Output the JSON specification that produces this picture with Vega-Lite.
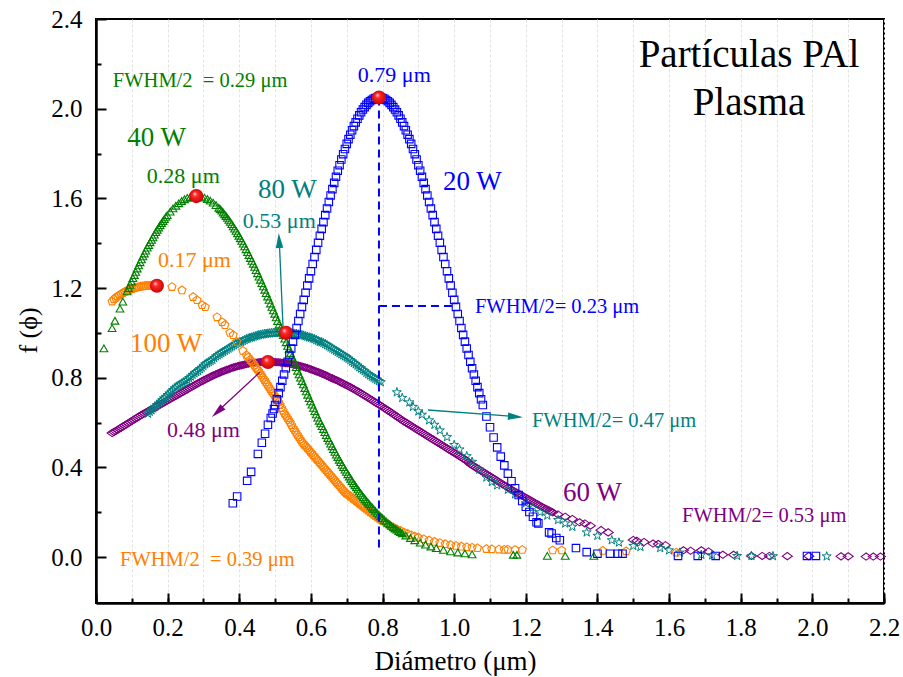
{
"$schema":"https://vega.github.io/schema/vega-lite/v6.json",
"width":788,"height":584,
"autosize":{"type":"none"},
"padding":{"left":96,"top":19,"right":19,"bottom":74},
"background":"white",
"config":{"view":{"stroke":"black","strokeWidth":2},"font":"Liberation Serif"},
"resolve":{"axis":{"x":"independent","y":"independent"}},
"datasets":{
"s60":[{"x":0.045,"y":0.553},{"x":0.05,"y":0.558},{"x":0.055,"y":0.562},{"x":0.06,"y":0.567},{"x":0.065,"y":0.572},{"x":0.07,"y":0.577},{"x":0.075,"y":0.582},{"x":0.08,"y":0.587},{"x":0.085,"y":0.592},{"x":0.09,"y":0.597},{"x":0.095,"y":0.602},{"x":0.1,"y":0.607},{"x":0.105,"y":0.612},{"x":0.11,"y":0.617},{"x":0.115,"y":0.622},{"x":0.12,"y":0.627},{"x":0.125,"y":0.632},{"x":0.13,"y":0.637},{"x":0.135,"y":0.641},{"x":0.14,"y":0.646},{"x":0.145,"y":0.65},{"x":0.15,"y":0.655},{"x":0.155,"y":0.659},{"x":0.16,"y":0.663},{"x":0.165,"y":0.667},{"x":0.17,"y":0.672},{"x":0.175,"y":0.676},{"x":0.18,"y":0.681},{"x":0.185,"y":0.685},{"x":0.19,"y":0.69},{"x":0.195,"y":0.694},{"x":0.2,"y":0.699},{"x":0.205,"y":0.703},{"x":0.21,"y":0.708},{"x":0.215,"y":0.712},{"x":0.22,"y":0.717},{"x":0.225,"y":0.721},{"x":0.23,"y":0.726},{"x":0.235,"y":0.73},{"x":0.24,"y":0.735},{"x":0.245,"y":0.739},{"x":0.25,"y":0.744},{"x":0.255,"y":0.748},{"x":0.26,"y":0.753},{"x":0.265,"y":0.757},{"x":0.27,"y":0.762},{"x":0.275,"y":0.766},{"x":0.28,"y":0.771},{"x":0.285,"y":0.775},{"x":0.29,"y":0.78},{"x":0.295,"y":0.784},{"x":0.3,"y":0.788},{"x":0.305,"y":0.792},{"x":0.31,"y":0.796},{"x":0.315,"y":0.8},{"x":0.32,"y":0.804},{"x":0.325,"y":0.808},{"x":0.33,"y":0.812},{"x":0.335,"y":0.815},{"x":0.34,"y":0.819},{"x":0.345,"y":0.822},{"x":0.35,"y":0.826},{"x":0.355,"y":0.829},{"x":0.36,"y":0.832},{"x":0.365,"y":0.835},{"x":0.37,"y":0.838},{"x":0.375,"y":0.841},{"x":0.38,"y":0.844},{"x":0.385,"y":0.846},{"x":0.39,"y":0.849},{"x":0.395,"y":0.851},{"x":0.4,"y":0.853},{"x":0.405,"y":0.855},{"x":0.41,"y":0.857},{"x":0.415,"y":0.859},{"x":0.42,"y":0.861},{"x":0.425,"y":0.862},{"x":0.43,"y":0.864},{"x":0.435,"y":0.865},{"x":0.44,"y":0.866},{"x":0.445,"y":0.867},{"x":0.45,"y":0.868},{"x":0.455,"y":0.869},{"x":0.46,"y":0.87},{"x":0.465,"y":0.87},{"x":0.47,"y":0.87},{"x":0.475,"y":0.87},{"x":0.48,"y":0.87},{"x":0.485,"y":0.87},{"x":0.49,"y":0.87},{"x":0.495,"y":0.87},{"x":0.5,"y":0.87},{"x":0.505,"y":0.869},{"x":0.51,"y":0.869},{"x":0.515,"y":0.868},{"x":0.52,"y":0.867},{"x":0.525,"y":0.866},{"x":0.53,"y":0.865},{"x":0.535,"y":0.864},{"x":0.54,"y":0.863},{"x":0.545,"y":0.861},{"x":0.55,"y":0.86},{"x":0.555,"y":0.858},{"x":0.56,"y":0.856},{"x":0.565,"y":0.854},{"x":0.57,"y":0.852},{"x":0.575,"y":0.85},{"x":0.58,"y":0.848},{"x":0.585,"y":0.845},{"x":0.59,"y":0.843},{"x":0.595,"y":0.84},{"x":0.6,"y":0.837},{"x":0.605,"y":0.834},{"x":0.61,"y":0.831},{"x":0.615,"y":0.828},{"x":0.62,"y":0.825},{"x":0.625,"y":0.822},{"x":0.63,"y":0.819},{"x":0.635,"y":0.815},{"x":0.64,"y":0.812},{"x":0.645,"y":0.808},{"x":0.65,"y":0.804},{"x":0.655,"y":0.8},{"x":0.66,"y":0.797},{"x":0.665,"y":0.793},{"x":0.67,"y":0.79},{"x":0.675,"y":0.786},{"x":0.68,"y":0.782},{"x":0.685,"y":0.778},{"x":0.69,"y":0.774},{"x":0.695,"y":0.77},{"x":0.7,"y":0.766},{"x":0.705,"y":0.762},{"x":0.71,"y":0.758},{"x":0.715,"y":0.753},{"x":0.72,"y":0.749},{"x":0.725,"y":0.744},{"x":0.73,"y":0.74},{"x":0.735,"y":0.735},{"x":0.74,"y":0.73},{"x":0.745,"y":0.725},{"x":0.75,"y":0.72},{"x":0.755,"y":0.715},{"x":0.76,"y":0.71},{"x":0.765,"y":0.705},{"x":0.77,"y":0.7},{"x":0.775,"y":0.695},{"x":0.78,"y":0.69},{"x":0.785,"y":0.685},{"x":0.79,"y":0.68},{"x":0.795,"y":0.675},{"x":0.8,"y":0.67},{"x":0.805,"y":0.664},{"x":0.81,"y":0.659},{"x":0.815,"y":0.654},{"x":0.82,"y":0.649},{"x":0.825,"y":0.643},{"x":0.83,"y":0.638},{"x":0.835,"y":0.632},{"x":0.84,"y":0.627},{"x":0.845,"y":0.621},{"x":0.85,"y":0.616},{"x":0.855,"y":0.61},{"x":0.86,"y":0.605},{"x":0.865,"y":0.6},{"x":0.87,"y":0.595},{"x":0.875,"y":0.59},{"x":0.88,"y":0.585},{"x":0.885,"y":0.58},{"x":0.89,"y":0.575},{"x":0.895,"y":0.57},{"x":0.9,"y":0.565},{"x":0.905,"y":0.56},{"x":0.91,"y":0.555},{"x":0.915,"y":0.55},{"x":0.92,"y":0.545},{"x":0.925,"y":0.54},{"x":0.93,"y":0.535},{"x":0.935,"y":0.53},{"x":0.94,"y":0.525},{"x":0.945,"y":0.52},{"x":0.95,"y":0.515},{"x":0.955,"y":0.51},{"x":0.96,"y":0.505},{"x":0.965,"y":0.5},{"x":0.97,"y":0.495},{"x":0.975,"y":0.49},{"x":0.98,"y":0.485},{"x":0.985,"y":0.48},{"x":0.99,"y":0.475},{"x":0.995,"y":0.47},{"x":1.0,"y":0.465},{"x":1.005,"y":0.46},{"x":1.01,"y":0.455},{"x":1.015,"y":0.45},{"x":1.02,"y":0.445},{"x":1.025,"y":0.44},{"x":1.03,"y":0.435},{"x":1.035,"y":0.43},{"x":1.04,"y":0.423},{"x":1.045,"y":0.415},{"x":1.05,"y":0.41},{"x":1.055,"y":0.405},{"x":1.06,"y":0.4},{"x":1.065,"y":0.395},{"x":1.07,"y":0.39},{"x":1.075,"y":0.385},{"x":1.08,"y":0.38},{"x":1.085,"y":0.375},{"x":1.09,"y":0.37},{"x":1.095,"y":0.365},{"x":1.1,"y":0.36},{"x":1.105,"y":0.355},{"x":1.11,"y":0.35},{"x":1.115,"y":0.345},{"x":1.12,"y":0.34},{"x":1.125,"y":0.335},{"x":1.13,"y":0.33},{"x":1.135,"y":0.325},{"x":1.14,"y":0.32},{"x":1.145,"y":0.315},{"x":1.15,"y":0.31},{"x":1.155,"y":0.305},{"x":1.16,"y":0.3},{"x":1.165,"y":0.296},{"x":1.17,"y":0.291},{"x":1.175,"y":0.287},{"x":1.18,"y":0.282},{"x":1.185,"y":0.278},{"x":1.19,"y":0.273},{"x":1.195,"y":0.269},{"x":1.2,"y":0.264},{"x":1.205,"y":0.26},{"x":1.21,"y":0.255},{"x":1.215,"y":0.251},{"x":1.22,"y":0.246},{"x":1.225,"y":0.242},{"x":1.23,"y":0.237},{"x":1.235,"y":0.233},{"x":1.24,"y":0.228},{"x":1.245,"y":0.224},{"x":1.25,"y":0.219},{"x":1.255,"y":0.215},{"x":1.26,"y":0.211},{"x":1.265,"y":0.207},{"x":1.27,"y":0.203},{"x":1.275,"y":0.2},{"x":1.29,"y":0.19},{"x":1.31,"y":0.18},{"x":1.33,"y":0.17},{"x":1.35,"y":0.155},{"x":1.365,"y":0.15},{"x":1.38,"y":0.14},{"x":1.41,"y":0.12},{"x":1.43,"y":0.11},{"x":1.5,"y":0.076},{"x":1.51,"y":0.072},{"x":1.53,"y":0.067},{"x":1.555,"y":0.06},{"x":1.57,"y":0.058},{"x":1.59,"y":0.053},{"x":1.64,"y":0.03},{"x":1.66,"y":0.028},{"x":1.69,"y":0.03},{"x":1.71,"y":0.025},{"x":1.75,"y":0.01},{"x":1.78,"y":0.01},{"x":1.83,"y":0.005},{"x":1.86,"y":0.005},{"x":1.88,"y":0.005},{"x":1.93,"y":0.004},{"x":1.99,"y":0.004},{"x":2.08,"y":0.003},{"x":2.1,"y":0.003},{"x":2.15,"y":0.002},{"x":2.17,"y":0.002},{"x":2.19,"y":0.002}],
"s80":[{"x":0.145,"y":0.64},{"x":0.15,"y":0.648},{"x":0.155,"y":0.655},{"x":0.16,"y":0.663},{"x":0.165,"y":0.67},{"x":0.17,"y":0.678},{"x":0.175,"y":0.685},{"x":0.18,"y":0.693},{"x":0.185,"y":0.7},{"x":0.19,"y":0.708},{"x":0.195,"y":0.715},{"x":0.2,"y":0.723},{"x":0.205,"y":0.73},{"x":0.21,"y":0.738},{"x":0.215,"y":0.745},{"x":0.22,"y":0.753},{"x":0.225,"y":0.76},{"x":0.23,"y":0.765},{"x":0.235,"y":0.77},{"x":0.24,"y":0.775},{"x":0.245,"y":0.78},{"x":0.25,"y":0.785},{"x":0.255,"y":0.79},{"x":0.26,"y":0.798},{"x":0.265,"y":0.805},{"x":0.27,"y":0.813},{"x":0.275,"y":0.82},{"x":0.28,"y":0.825},{"x":0.285,"y":0.83},{"x":0.29,"y":0.838},{"x":0.295,"y":0.845},{"x":0.3,"y":0.853},{"x":0.305,"y":0.86},{"x":0.31,"y":0.865},{"x":0.315,"y":0.87},{"x":0.32,"y":0.875},{"x":0.325,"y":0.88},{"x":0.33,"y":0.888},{"x":0.335,"y":0.895},{"x":0.34,"y":0.9},{"x":0.345,"y":0.905},{"x":0.35,"y":0.91},{"x":0.355,"y":0.915},{"x":0.36,"y":0.92},{"x":0.365,"y":0.925},{"x":0.37,"y":0.93},{"x":0.375,"y":0.935},{"x":0.38,"y":0.94},{"x":0.385,"y":0.945},{"x":0.39,"y":0.95},{"x":0.395,"y":0.955},{"x":0.4,"y":0.958},{"x":0.405,"y":0.96},{"x":0.41,"y":0.964},{"x":0.415,"y":0.968},{"x":0.42,"y":0.972},{"x":0.425,"y":0.975},{"x":0.43,"y":0.978},{"x":0.435,"y":0.98},{"x":0.44,"y":0.983},{"x":0.445,"y":0.985},{"x":0.45,"y":0.988},{"x":0.455,"y":0.99},{"x":0.46,"y":0.992},{"x":0.465,"y":0.993},{"x":0.47,"y":0.995},{"x":0.475,"y":0.996},{"x":0.48,"y":0.997},{"x":0.485,"y":0.998},{"x":0.49,"y":0.999},{"x":0.495,"y":1.0},{"x":0.5,"y":1.0},{"x":0.505,"y":1.0},{"x":0.51,"y":1.0},{"x":0.515,"y":1.0},{"x":0.52,"y":1.0},{"x":0.525,"y":1.0},{"x":0.53,"y":1.0},{"x":0.535,"y":1.0},{"x":0.54,"y":0.999},{"x":0.545,"y":0.998},{"x":0.55,"y":0.997},{"x":0.555,"y":0.996},{"x":0.56,"y":0.995},{"x":0.565,"y":0.993},{"x":0.57,"y":0.992},{"x":0.575,"y":0.99},{"x":0.58,"y":0.988},{"x":0.585,"y":0.985},{"x":0.59,"y":0.983},{"x":0.595,"y":0.98},{"x":0.6,"y":0.978},{"x":0.605,"y":0.975},{"x":0.61,"y":0.972},{"x":0.615,"y":0.968},{"x":0.62,"y":0.964},{"x":0.625,"y":0.96},{"x":0.63,"y":0.958},{"x":0.635,"y":0.955},{"x":0.64,"y":0.95},{"x":0.645,"y":0.945},{"x":0.65,"y":0.94},{"x":0.655,"y":0.935},{"x":0.66,"y":0.93},{"x":0.665,"y":0.925},{"x":0.67,"y":0.92},{"x":0.675,"y":0.915},{"x":0.68,"y":0.91},{"x":0.685,"y":0.905},{"x":0.69,"y":0.9},{"x":0.695,"y":0.895},{"x":0.7,"y":0.89},{"x":0.705,"y":0.885},{"x":0.71,"y":0.879},{"x":0.715,"y":0.872},{"x":0.72,"y":0.866},{"x":0.725,"y":0.86},{"x":0.73,"y":0.854},{"x":0.735,"y":0.847},{"x":0.74,"y":0.841},{"x":0.745,"y":0.835},{"x":0.75,"y":0.829},{"x":0.755,"y":0.822},{"x":0.76,"y":0.816},{"x":0.765,"y":0.81},{"x":0.77,"y":0.805},{"x":0.775,"y":0.8},{"x":0.78,"y":0.795},{"x":0.785,"y":0.79},{"x":0.79,"y":0.785},{"x":0.795,"y":0.78},{"x":0.84,"y":0.735},{"x":0.855,"y":0.71},{"x":0.875,"y":0.69},{"x":0.885,"y":0.67},{"x":0.9,"y":0.65},{"x":0.91,"y":0.635},{"x":0.93,"y":0.61},{"x":0.945,"y":0.59},{"x":0.96,"y":0.565},{"x":0.98,"y":0.535},{"x":1.0,"y":0.5},{"x":1.015,"y":0.48},{"x":1.035,"y":0.45},{"x":1.05,"y":0.425},{"x":1.07,"y":0.39},{"x":1.09,"y":0.355},{"x":1.105,"y":0.335},{"x":1.12,"y":0.32},{"x":1.15,"y":0.3},{"x":1.17,"y":0.28},{"x":1.2,"y":0.24},{"x":1.22,"y":0.22},{"x":1.24,"y":0.2},{"x":1.26,"y":0.185},{"x":1.29,"y":0.165},{"x":1.31,"y":0.15},{"x":1.33,"y":0.135},{"x":1.37,"y":0.11},{"x":1.4,"y":0.095},{"x":1.44,"y":0.075},{"x":1.46,"y":0.065},{"x":1.5,"y":0.05},{"x":1.52,"y":0.045},{"x":1.575,"y":0.04},{"x":1.6,"y":0.03},{"x":1.63,"y":0.02},{"x":1.69,"y":0.01},{"x":1.72,"y":0.008},{"x":1.79,"y":0.005},{"x":1.83,"y":0.005},{"x":1.89,"y":0.004},{"x":2.04,"y":0.003}],
"s100":[{"x":0.045,"y":1.14},{"x":0.05,"y":1.15},{"x":0.055,"y":1.157},{"x":0.06,"y":1.163},{"x":0.065,"y":1.168},{"x":0.07,"y":1.173},{"x":0.075,"y":1.178},{"x":0.08,"y":1.183},{"x":0.085,"y":1.187},{"x":0.09,"y":1.19},{"x":0.095,"y":1.193},{"x":0.1,"y":1.196},{"x":0.105,"y":1.199},{"x":0.11,"y":1.201},{"x":0.115,"y":1.203},{"x":0.12,"y":1.205},{"x":0.125,"y":1.207},{"x":0.13,"y":1.208},{"x":0.135,"y":1.209},{"x":0.14,"y":1.21},{"x":0.145,"y":1.21},{"x":0.15,"y":1.211},{"x":0.155,"y":1.211},{"x":0.16,"y":1.211},{"x":0.165,"y":1.21},{"x":0.17,"y":1.21},{"x":0.212,"y":1.205},{"x":0.24,"y":1.19},{"x":0.271,"y":1.16},{"x":0.282,"y":1.146},{"x":0.296,"y":1.124},{"x":0.305,"y":1.115},{"x":0.338,"y":1.07},{"x":0.352,"y":1.048},{"x":0.36,"y":1.035},{"x":0.374,"y":1.0},{"x":0.383,"y":0.99},{"x":0.393,"y":0.96},{"x":0.41,"y":0.92},{"x":0.42,"y":0.9},{"x":0.425,"y":0.89},{"x":0.43,"y":0.88},{"x":0.434,"y":0.873},{"x":0.438,"y":0.865},{"x":0.442,"y":0.855},{"x":0.446,"y":0.845},{"x":0.45,"y":0.838},{"x":0.454,"y":0.83},{"x":0.458,"y":0.82},{"x":0.462,"y":0.81},{"x":0.466,"y":0.8},{"x":0.47,"y":0.79},{"x":0.474,"y":0.78},{"x":0.478,"y":0.77},{"x":0.482,"y":0.76},{"x":0.486,"y":0.75},{"x":0.49,"y":0.74},{"x":0.494,"y":0.73},{"x":0.498,"y":0.72},{"x":0.502,"y":0.71},{"x":0.506,"y":0.7},{"x":0.51,"y":0.69},{"x":0.514,"y":0.678},{"x":0.518,"y":0.665},{"x":0.522,"y":0.653},{"x":0.526,"y":0.64},{"x":0.53,"y":0.63},{"x":0.534,"y":0.62},{"x":0.538,"y":0.61},{"x":0.542,"y":0.6},{"x":0.546,"y":0.588},{"x":0.55,"y":0.575},{"x":0.554,"y":0.565},{"x":0.558,"y":0.555},{"x":0.562,"y":0.545},{"x":0.566,"y":0.535},{"x":0.57,"y":0.525},{"x":0.574,"y":0.515},{"x":0.578,"y":0.508},{"x":0.582,"y":0.5},{"x":0.586,"y":0.493},{"x":0.59,"y":0.485},{"x":0.594,"y":0.478},{"x":0.598,"y":0.47},{"x":0.602,"y":0.463},{"x":0.606,"y":0.455},{"x":0.61,"y":0.448},{"x":0.614,"y":0.44},{"x":0.618,"y":0.433},{"x":0.622,"y":0.425},{"x":0.626,"y":0.418},{"x":0.63,"y":0.41},{"x":0.634,"y":0.403},{"x":0.638,"y":0.395},{"x":0.642,"y":0.388},{"x":0.646,"y":0.38},{"x":0.65,"y":0.373},{"x":0.654,"y":0.365},{"x":0.658,"y":0.358},{"x":0.662,"y":0.35},{"x":0.666,"y":0.343},{"x":0.67,"y":0.335},{"x":0.674,"y":0.328},{"x":0.678,"y":0.32},{"x":0.682,"y":0.313},{"x":0.686,"y":0.305},{"x":0.69,"y":0.298},{"x":0.694,"y":0.29},{"x":0.698,"y":0.285},{"x":0.702,"y":0.28},{"x":0.706,"y":0.275},{"x":0.71,"y":0.27},{"x":0.714,"y":0.265},{"x":0.718,"y":0.26},{"x":0.722,"y":0.255},{"x":0.726,"y":0.25},{"x":0.73,"y":0.245},{"x":0.734,"y":0.24},{"x":0.738,"y":0.235},{"x":0.742,"y":0.23},{"x":0.746,"y":0.225},{"x":0.75,"y":0.22},{"x":0.755,"y":0.213},{"x":0.76,"y":0.207},{"x":0.765,"y":0.201},{"x":0.77,"y":0.195},{"x":0.775,"y":0.189},{"x":0.78,"y":0.183},{"x":0.785,"y":0.177},{"x":0.79,"y":0.172},{"x":0.795,"y":0.166},{"x":0.8,"y":0.161},{"x":0.81,"y":0.151},{"x":0.82,"y":0.141},{"x":0.83,"y":0.132},{"x":0.84,"y":0.124},{"x":0.85,"y":0.117},{"x":0.86,"y":0.11},{"x":0.87,"y":0.104},{"x":0.88,"y":0.098},{"x":0.89,"y":0.092},{"x":0.9,"y":0.087},{"x":0.915,"y":0.08},{"x":0.93,"y":0.074},{"x":0.945,"y":0.068},{"x":0.96,"y":0.063},{"x":0.975,"y":0.058},{"x":0.99,"y":0.054},{"x":1.005,"y":0.05},{"x":1.02,"y":0.047},{"x":1.035,"y":0.044},{"x":1.05,"y":0.042},{"x":1.065,"y":0.04},{"x":1.09,"y":0.036},{"x":1.105,"y":0.035},{"x":1.125,"y":0.034},{"x":1.14,"y":0.033},{"x":1.15,"y":0.033},{"x":1.17,"y":0.032},{"x":1.19,"y":0.032},{"x":1.275,"y":0.03},{"x":1.3,"y":0.03},{"x":1.415,"y":0.028},{"x":1.48,"y":0.026},{"x":1.62,"y":0.02}],
"s40":[{"x":0.022,"y":0.931},{"x":0.045,"y":1.021},{"x":0.053,"y":1.054},{"x":0.067,"y":1.108},{"x":0.075,"y":1.139},{"x":0.087,"y":1.185},{"x":0.091,"y":1.2},{"x":0.095,"y":1.214},{"x":0.099,"y":1.229},{"x":0.103,"y":1.244},{"x":0.107,"y":1.258},{"x":0.111,"y":1.272},{"x":0.115,"y":1.287},{"x":0.119,"y":1.301},{"x":0.123,"y":1.315},{"x":0.127,"y":1.328},{"x":0.131,"y":1.341},{"x":0.135,"y":1.354},{"x":0.139,"y":1.367},{"x":0.143,"y":1.38},{"x":0.147,"y":1.392},{"x":0.151,"y":1.404},{"x":0.155,"y":1.415},{"x":0.159,"y":1.426},{"x":0.163,"y":1.438},{"x":0.167,"y":1.449},{"x":0.171,"y":1.46},{"x":0.175,"y":1.47},{"x":0.179,"y":1.48},{"x":0.183,"y":1.49},{"x":0.187,"y":1.499},{"x":0.191,"y":1.508},{"x":0.195,"y":1.517},{"x":0.199,"y":1.525},{"x":0.207,"y":1.541},{"x":0.215,"y":1.555},{"x":0.223,"y":1.567},{"x":0.231,"y":1.578},{"x":0.239,"y":1.588},{"x":0.247,"y":1.596},{"x":0.255,"y":1.602},{"x":0.263,"y":1.606},{"x":0.271,"y":1.609},{"x":0.279,"y":1.61},{"x":0.287,"y":1.609},{"x":0.295,"y":1.607},{"x":0.303,"y":1.603},{"x":0.311,"y":1.597},{"x":0.319,"y":1.59},{"x":0.327,"y":1.581},{"x":0.335,"y":1.57},{"x":0.343,"y":1.558},{"x":0.347,"y":1.552},{"x":0.351,"y":1.545},{"x":0.355,"y":1.537},{"x":0.359,"y":1.529},{"x":0.363,"y":1.521},{"x":0.367,"y":1.513},{"x":0.371,"y":1.504},{"x":0.375,"y":1.495},{"x":0.379,"y":1.485},{"x":0.383,"y":1.475},{"x":0.387,"y":1.465},{"x":0.391,"y":1.455},{"x":0.395,"y":1.444},{"x":0.399,"y":1.433},{"x":0.403,"y":1.422},{"x":0.407,"y":1.41},{"x":0.411,"y":1.398},{"x":0.415,"y":1.386},{"x":0.419,"y":1.373},{"x":0.423,"y":1.36},{"x":0.427,"y":1.347},{"x":0.431,"y":1.334},{"x":0.435,"y":1.321},{"x":0.439,"y":1.308},{"x":0.443,"y":1.294},{"x":0.447,"y":1.28},{"x":0.451,"y":1.266},{"x":0.455,"y":1.251},{"x":0.459,"y":1.237},{"x":0.463,"y":1.222},{"x":0.467,"y":1.207},{"x":0.471,"y":1.192},{"x":0.475,"y":1.177},{"x":0.479,"y":1.162},{"x":0.483,"y":1.147},{"x":0.487,"y":1.131},{"x":0.491,"y":1.116},{"x":0.495,"y":1.1},{"x":0.499,"y":1.085},{"x":0.503,"y":1.069},{"x":0.507,"y":1.053},{"x":0.511,"y":1.037},{"x":0.515,"y":1.021},{"x":0.519,"y":1.005},{"x":0.523,"y":0.99},{"x":0.527,"y":0.974},{"x":0.531,"y":0.958},{"x":0.535,"y":0.942},{"x":0.539,"y":0.926},{"x":0.543,"y":0.91},{"x":0.547,"y":0.894},{"x":0.551,"y":0.878},{"x":0.555,"y":0.863},{"x":0.559,"y":0.847},{"x":0.563,"y":0.831},{"x":0.567,"y":0.815},{"x":0.571,"y":0.8},{"x":0.575,"y":0.785},{"x":0.579,"y":0.77},{"x":0.583,"y":0.754},{"x":0.587,"y":0.739},{"x":0.591,"y":0.724},{"x":0.595,"y":0.709},{"x":0.599,"y":0.694},{"x":0.603,"y":0.68},{"x":0.607,"y":0.665},{"x":0.611,"y":0.651},{"x":0.615,"y":0.636},{"x":0.619,"y":0.622},{"x":0.623,"y":0.608},{"x":0.627,"y":0.596},{"x":0.631,"y":0.584},{"x":0.635,"y":0.571},{"x":0.639,"y":0.557},{"x":0.643,"y":0.544},{"x":0.647,"y":0.531},{"x":0.651,"y":0.519},{"x":0.655,"y":0.506},{"x":0.659,"y":0.494},{"x":0.663,"y":0.481},{"x":0.667,"y":0.469},{"x":0.671,"y":0.457},{"x":0.675,"y":0.446},{"x":0.679,"y":0.434},{"x":0.683,"y":0.423},{"x":0.687,"y":0.411},{"x":0.691,"y":0.401},{"x":0.695,"y":0.39},{"x":0.699,"y":0.38},{"x":0.703,"y":0.369},{"x":0.707,"y":0.359},{"x":0.711,"y":0.349},{"x":0.715,"y":0.339},{"x":0.719,"y":0.329},{"x":0.723,"y":0.32},{"x":0.727,"y":0.311},{"x":0.731,"y":0.302},{"x":0.735,"y":0.293},{"x":0.739,"y":0.284},{"x":0.743,"y":0.275},{"x":0.747,"y":0.267},{"x":0.751,"y":0.259},{"x":0.755,"y":0.251},{"x":0.759,"y":0.243},{"x":0.763,"y":0.236},{"x":0.767,"y":0.228},{"x":0.771,"y":0.221},{"x":0.775,"y":0.214},{"x":0.78,"y":0.206},{"x":0.785,"y":0.197},{"x":0.79,"y":0.189},{"x":0.795,"y":0.181},{"x":0.8,"y":0.174},{"x":0.805,"y":0.166},{"x":0.81,"y":0.159},{"x":0.815,"y":0.152},{"x":0.82,"y":0.146},{"x":0.825,"y":0.139},{"x":0.83,"y":0.133},{"x":0.835,"y":0.127},{"x":0.84,"y":0.122},{"x":0.845,"y":0.116},{"x":0.85,"y":0.111},{"x":0.855,"y":0.106},{"x":0.865,"y":0.096},{"x":0.878,"y":0.085},{"x":0.89,"y":0.075},{"x":0.905,"y":0.064},{"x":0.92,"y":0.055},{"x":0.935,"y":0.047},{"x":0.95,"y":0.04},{"x":0.97,"y":0.032},{"x":0.99,"y":0.025},{"x":1.01,"y":0.02},{"x":1.03,"y":0.016},{"x":1.05,"y":0.012},{"x":1.165,"y":0.01},{"x":1.175,"y":0.01},{"x":1.26,"y":0.005},{"x":1.31,"y":0.005},{"x":1.39,"y":0.005}],
"s20":[{"x":0.382,"y":0.24},{"x":0.394,"y":0.27},{"x":0.422,"y":0.34},{"x":0.433,"y":0.38},{"x":0.452,"y":0.46},{"x":0.463,"y":0.51},{"x":0.472,"y":0.55},{"x":0.48,"y":0.59},{"x":0.488,"y":0.62},{"x":0.493,"y":0.64},{"x":0.497,"y":0.66},{"x":0.5,"y":0.678},{"x":0.505,"y":0.704},{"x":0.51,"y":0.731},{"x":0.515,"y":0.758},{"x":0.52,"y":0.786},{"x":0.525,"y":0.814},{"x":0.53,"y":0.842},{"x":0.535,"y":0.871},{"x":0.54,"y":0.901},{"x":0.545,"y":0.93},{"x":0.55,"y":0.961},{"x":0.555,"y":0.991},{"x":0.56,"y":1.022},{"x":0.565,"y":1.053},{"x":0.57,"y":1.084},{"x":0.575,"y":1.116},{"x":0.58,"y":1.147},{"x":0.585,"y":1.179},{"x":0.59,"y":1.211},{"x":0.595,"y":1.243},{"x":0.6,"y":1.275},{"x":0.605,"y":1.307},{"x":0.61,"y":1.338},{"x":0.615,"y":1.37},{"x":0.62,"y":1.402},{"x":0.625,"y":1.433},{"x":0.63,"y":1.464},{"x":0.635,"y":1.494},{"x":0.64,"y":1.525},{"x":0.645,"y":1.555},{"x":0.65,"y":1.584},{"x":0.655,"y":1.613},{"x":0.66,"y":1.641},{"x":0.665,"y":1.669},{"x":0.67,"y":1.696},{"x":0.675,"y":1.723},{"x":0.68,"y":1.748},{"x":0.685,"y":1.773},{"x":0.69,"y":1.797},{"x":0.695,"y":1.82},{"x":0.7,"y":1.843},{"x":0.705,"y":1.864},{"x":0.71,"y":1.884},{"x":0.715,"y":1.904},{"x":0.72,"y":1.922},{"x":0.725,"y":1.939},{"x":0.73,"y":1.955},{"x":0.735,"y":1.97},{"x":0.74,"y":1.984},{"x":0.745,"y":1.996},{"x":0.75,"y":2.007},{"x":0.755,"y":2.017},{"x":0.76,"y":2.026},{"x":0.765,"y":2.033},{"x":0.77,"y":2.039},{"x":0.775,"y":2.044},{"x":0.78,"y":2.047},{"x":0.785,"y":2.049},{"x":0.79,"y":2.05},{"x":0.795,"y":2.049},{"x":0.8,"y":2.047},{"x":0.805,"y":2.044},{"x":0.81,"y":2.039},{"x":0.815,"y":2.033},{"x":0.82,"y":2.026},{"x":0.825,"y":2.017},{"x":0.83,"y":2.007},{"x":0.835,"y":1.996},{"x":0.84,"y":1.984},{"x":0.845,"y":1.97},{"x":0.85,"y":1.955},{"x":0.855,"y":1.939},{"x":0.86,"y":1.922},{"x":0.865,"y":1.904},{"x":0.87,"y":1.884},{"x":0.875,"y":1.864},{"x":0.88,"y":1.843},{"x":0.885,"y":1.82},{"x":0.89,"y":1.797},{"x":0.895,"y":1.773},{"x":0.9,"y":1.748},{"x":0.905,"y":1.723},{"x":0.91,"y":1.696},{"x":0.915,"y":1.669},{"x":0.92,"y":1.641},{"x":0.925,"y":1.613},{"x":0.93,"y":1.584},{"x":0.935,"y":1.555},{"x":0.94,"y":1.525},{"x":0.945,"y":1.494},{"x":0.95,"y":1.464},{"x":0.955,"y":1.433},{"x":0.96,"y":1.402},{"x":0.965,"y":1.37},{"x":0.97,"y":1.338},{"x":0.975,"y":1.307},{"x":0.98,"y":1.275},{"x":0.985,"y":1.243},{"x":0.99,"y":1.211},{"x":0.995,"y":1.179},{"x":1.0,"y":1.147},{"x":1.005,"y":1.116},{"x":1.01,"y":1.084},{"x":1.015,"y":1.053},{"x":1.02,"y":1.022},{"x":1.025,"y":0.991},{"x":1.03,"y":0.961},{"x":1.035,"y":0.93},{"x":1.04,"y":0.901},{"x":1.045,"y":0.871},{"x":1.05,"y":0.842},{"x":1.055,"y":0.814},{"x":1.06,"y":0.786},{"x":1.065,"y":0.758},{"x":1.07,"y":0.731},{"x":1.075,"y":0.704},{"x":1.08,"y":0.678},{"x":1.09,"y":0.627},{"x":1.1,"y":0.579},{"x":1.11,"y":0.533},{"x":1.12,"y":0.489},{"x":1.13,"y":0.448},{"x":1.14,"y":0.409},{"x":1.15,"y":0.372},{"x":1.16,"y":0.338},{"x":1.17,"y":0.307},{"x":1.18,"y":0.277},{"x":1.19,"y":0.25},{"x":1.2,"y":0.224},{"x":1.21,"y":0.201},{"x":1.22,"y":0.18},{"x":1.23,"y":0.155},{"x":1.235,"y":0.15},{"x":1.265,"y":0.11},{"x":1.272,"y":0.105},{"x":1.285,"y":0.085},{"x":1.295,"y":0.075},{"x":1.34,"y":0.04},{"x":1.37,"y":0.022},{"x":1.4,"y":0.015},{"x":1.435,"y":0.015},{"x":1.457,"y":0.015},{"x":1.47,"y":0.015},{"x":1.625,"y":0.005},{"x":1.68,"y":0.005},{"x":1.73,"y":0.005},{"x":1.985,"y":0.005},{"x":2.01,"y":0.005}],
"peaks":[{"x":0.79,"y":2.05},{"x":0.28,"y":1.61},{"x":0.17,"y":1.21},{"x":0.53,"y":1.0},{"x":0.48,"y":0.87}],
"guides":[{"x":0.79,"y":2.05,"x2":0.79,"y2":0.04},{"x":0.79,"y":1.12,"x2":1.005,"y2":1.12}],
"arrows":[{"s":"80 W","x":0.522,"y":1.03,"x2":0.5115,"y2":1.42},{"s":"80 W","x":0.927,"y":0.656,"x2":1.175,"y2":0.626},{"s":"60 W","x":0.458,"y":0.825,"x2":0.34,"y2":0.65}],
"big":[{"s":"40 W","t":"40 W","x":0.087,"y":1.833},{"s":"80 W","t":"80 W","x":0.452,"y":1.601},{"s":"100 W","t":"100 W","x":0.095,"y":0.914},{"s":"20 W","t":"20 W","x":0.969,"y":1.637},{"s":"60 W","t":"60 W","x":1.304,"y":0.25}],
"mid":[{"s":"40 W","t":"0.28 μm","x":0.142,"y":1.668},{"s":"80 W","t":"0.53 μm","x":0.41,"y":1.467},{"s":"100 W","t":"0.17 μm","x":0.173,"y":1.293},{"s":"20 W","t":"0.79 μm","x":0.731,"y":2.119},{"s":"60 W","t":"0.48 μm","x":0.198,"y":0.535}],
"small":[{"s":"40 W","t":"FWHM/2\u00a0 = 0.29 μm","x":0.047,"y":2.096},{"s":"20 W","t":"FWHM/2= 0.23 μm","x":1.058,"y":1.088},{"s":"80 W","t":"FWHM/2= 0.47 μm","x":1.217,"y":0.58},{"s":"60 W","t":"FWHM/2= 0.53 μm","x":1.636,"y":0.156},{"s":"100 W","t":"FWHM/2\u00a0 = 0.39 μm","x":0.067,"y":-0.04}],
"title":[{"t":"Partículas PAl","x":1.823,"y":2.186},{"t":"Plasma","x":1.823,"y":1.971}]
},
"layer":[
{"data":{"name":"s60"},
 "mark":{"type":"point","filled":false,"shape":"M-1,0L0,-0.72L1,0L0,0.72Z","size":100,"color":"#800080","strokeWidth":1.1,"opacity":1},
 "encoding":{
  "x":{"field":"x","type":"quantitative","scale":{"domain":[0,2.2],"nice":false,"zero":false},
   "axis":{"orient":"bottom","values":[0,0.2,0.4,0.6,0.8,1,1.2,1.4,1.6,1.8,2,2.2],"format":".1f","title":"Diámetro (μm)","tickSize":-10,"tickWidth":2,"tickColor":"black","domainColor":"black","domainWidth":2.5,"labelFont":"Liberation Serif","labelFontSize":25,"labelColor":"black","labelPadding":22,"labelFlush":false,"labelOverlap":false,"grid":false,"titleFont":"Liberation Serif","titleFontSize":27,"titleFontWeight":"normal","titleColor":"black","titleX":359,"titleY":66,"titleBaseline":"alphabetic","titleAlign":"center"}},
  "y":{"field":"y","type":"quantitative","scale":{"domain":[-0.205,2.4],"nice":false,"zero":false},
   "axis":{"orient":"left","values":[0,0.4,0.8,1.2,1.6,2,2.4],"format":".1f","title":"f (ϕ)","tickSize":-10,"tickWidth":2,"tickColor":"black","domainColor":"black","domainWidth":2.5,"labelFont":"Liberation Serif","labelFontSize":25,"labelColor":"black","labelPadding":24,"labelFlush":false,"labelOverlap":false,"grid":false,"titleFont":"Liberation Serif","titleFontSize":26,"titleFontWeight":"normal","titleColor":"black","titleX":-68,"titleY":311,"titleAngle":-90,"titleBaseline":"middle","titleAlign":"center"}}}},
{"data":{"name":"s80"},
 "mark":{"type":"point","filled":false,"shape":"M0,-1L0.2245,-0.309L0.951,-0.309L0.363,0.118L0.588,0.809L0,0.382L-0.588,0.809L-0.363,0.118L-0.951,-0.309L-0.2245,-0.309Z","size":90,"color":"#008080","strokeWidth":1,"opacity":1},
 "encoding":{
  "x":{"field":"x","type":"quantitative","axis":{"orient":"bottom","values":[0,0.1,0.2,0.3,0.4,0.5,0.6,0.7,0.8,0.9,1,1.1,1.2,1.3,1.4,1.5,1.6,1.7,1.8,1.9,2,2.1,2.2],"labels":false,"title":null,"domain":false,"tickSize":-5,"tickWidth":2,"tickColor":"black","grid":true,"gridColor":"#e2e2e2","gridWidth":1,"gridDash":[3,2]}},
  "y":{"field":"y","type":"quantitative","axis":{"orient":"left","values":[0.2,0.6,1.0,1.4,1.8,2.2],"labels":false,"title":null,"domain":false,"tickSize":-5,"tickWidth":2,"tickColor":"black","grid":false}}}},
{"data":{"name":"s100"},
 "mark":{"type":"point","filled":false,"shape":"M0,-1L0.951,-0.309L0.588,0.809L-0.588,0.809L-0.951,-0.309Z","size":72,"color":"#ff8000","strokeWidth":1.1,"opacity":1},
 "encoding":{"x":{"field":"x","type":"quantitative","axis":null},"y":{"field":"y","type":"quantitative","axis":null}}},
{"data":{"name":"s40"},
 "mark":{"type":"point","filled":false,"shape":"triangle-up","size":60,"color":"#008000","strokeWidth":1.1,"opacity":1},
 "encoding":{"x":{"field":"x","type":"quantitative","axis":null},"y":{"field":"y","type":"quantitative","axis":null}}},
{"data":{"name":"s20"},
 "mark":{"type":"point","filled":false,"shape":"square","size":56,"color":"#0000ff","strokeWidth":1.1,"opacity":1},
 "encoding":{"x":{"field":"x","type":"quantitative","axis":null},"y":{"field":"y","type":"quantitative","axis":null}}},
{"data":{"name":"guides"},
 "mark":{"type":"rule","color":"#0000ff","strokeWidth":2,"strokeDash":[8,5]},
 "encoding":{"x":{"field":"x","type":"quantitative","axis":null},"y":{"field":"y","type":"quantitative","axis":null},"x2":{"field":"x2"},"y2":{"field":"y2"}}},
{"data":{"name":"arrows"},
 "mark":{"type":"rule","strokeWidth":1.3},
 "encoding":{"x":{"field":"x","type":"quantitative","axis":null},"y":{"field":"y","type":"quantitative","axis":null},"x2":{"field":"x2"},"y2":{"field":"y2"},
  "color":{"field":"s","type":"nominal","scale":{"domain":["20 W","40 W","60 W","80 W","100 W"],"range":["#0000ff","#008000","#800080","#008080","#ff8000"]},"legend":null}}},
{"data":{"values":[{"x":0.5113,"y":1.412}]},
 "mark":{"type":"point","filled":true,"shape":"M0,-1L0.5,1L-0.5,1Z","size":225,"color":"#008080","opacity":1,"angle":357},
 "encoding":{"x":{"field":"x","type":"quantitative","axis":null},"y":{"field":"y","type":"quantitative","axis":null}}},
{"data":{"values":[{"x":1.171,"y":0.626}]},
 "mark":{"type":"point","filled":true,"shape":"M0,-1L0.5,1L-0.5,1Z","size":225,"color":"#008080","opacity":1,"angle":94},
 "encoding":{"x":{"field":"x","type":"quantitative","axis":null},"y":{"field":"y","type":"quantitative","axis":null}}},
{"data":{"values":[{"x":0.339,"y":0.647}]},
 "mark":{"type":"point","filled":true,"shape":"M0,-1L0.5,1L-0.5,1Z","size":225,"color":"#800080","opacity":1,"angle":227},
 "encoding":{"x":{"field":"x","type":"quantitative","axis":null},"y":{"field":"y","type":"quantitative","axis":null}}},
{"data":{"name":"peaks"},
 "mark":{"type":"point","filled":true,"shape":"circle","size":200,"opacity":1,"strokeWidth":0,"fill":{"gradient":"radial","x1":0.38,"y1":0.32,"r1":0,"x2":0.5,"y2":0.5,"r2":0.55,"stops":[{"offset":0,"color":"#ffe6e6"},{"offset":0.3,"color":"#ff2a2a"},{"offset":1,"color":"#c40000"}]}},
 "encoding":{"x":{"field":"x","type":"quantitative","axis":null},"y":{"field":"y","type":"quantitative","axis":null}}},
{"data":{"name":"big"},
 "mark":{"type":"text","align":"left","baseline":"alphabetic","font":"Liberation Serif","fontSize":27},
 "encoding":{"x":{"field":"x","type":"quantitative","axis":null},"y":{"field":"y","type":"quantitative","axis":null},"text":{"field":"t"},
  "color":{"field":"s","type":"nominal","scale":{"domain":["20 W","40 W","60 W","80 W","100 W"],"range":["#0000ff","#008000","#800080","#008080","#ff8000"]},"legend":null}}},
{"data":{"name":"mid"},
 "mark":{"type":"text","align":"left","baseline":"alphabetic","font":"Liberation Serif","fontSize":22},
 "encoding":{"x":{"field":"x","type":"quantitative","axis":null},"y":{"field":"y","type":"quantitative","axis":null},"text":{"field":"t"},
  "color":{"field":"s","type":"nominal","scale":{"domain":["20 W","40 W","60 W","80 W","100 W"],"range":["#0000ff","#008000","#800080","#008080","#ff8000"]},"legend":null}}},
{"data":{"name":"small"},
 "mark":{"type":"text","align":"left","baseline":"alphabetic","font":"Liberation Serif","fontSize":20.5},
 "encoding":{"x":{"field":"x","type":"quantitative","axis":null},"y":{"field":"y","type":"quantitative","axis":null},"text":{"field":"t"},
  "color":{"field":"s","type":"nominal","scale":{"domain":["20 W","40 W","60 W","80 W","100 W"],"range":["#0000ff","#008000","#800080","#008080","#ff8000"]},"legend":null}}},
{"data":{"name":"title"},
 "mark":{"type":"text","align":"center","baseline":"alphabetic","font":"Liberation Serif","fontSize":39,"color":"black"},
 "encoding":{"x":{"field":"x","type":"quantitative","axis":null},"y":{"field":"y","type":"quantitative","axis":null},"text":{"field":"t"}}}
]
}
